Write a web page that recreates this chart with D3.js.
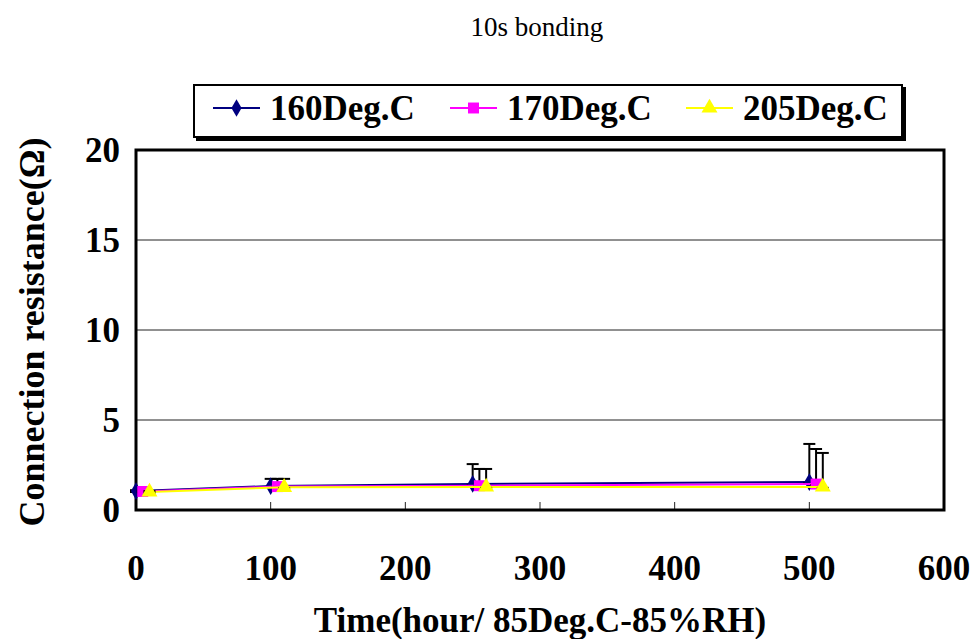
<!DOCTYPE html>
<html>
<head>
<meta charset="utf-8">
<script src="https://cdn.jsdelivr.net/npm/d3@7"></script>
<style>
    body { margin: 0; background: #fff; }
    svg { display: block; }
    text { font-family: "Liberation Serif", "Times New Roman", "DejaVu Serif", serif; }
    .tick-label { font-weight: bold; font-size: 35px; }
</style>
</head>
<body>
<svg width="976" height="639"></svg>
<script>
    // data
    var seriesNames = ["160Deg.C", "170Deg.C", "205Deg.C"];
    var hours160 = [0, 100, 250, 500],
        hours170 = [5, 105, 255, 505],
        hours205 = [10, 110, 260, 510];
    var res160 = [1.05, 1.33, 1.45, 1.55],
        res170 = [1.03, 1.3, 1.35, 1.44],
        res205 = [1.0, 1.26, 1.28, 1.28];
    var errUp160 = [0.05, 0.4, 1.1, 2.12],
        errUp170 = [0.05, 0.43, 0.93, 1.95],
        errUp205 = [0.05, 0.47, 1.0, 1.89];
    var errDown = [0.05, 0.05, 0.05, 0.05];
    var xTicks = [0, 100, 200, 300, 400, 500, 600],
        yTicks = [0, 5, 10, 15, 20];

    var colors = ["#000080", "#ff00ff", "#ffff00"],
        symbols = [d3.symbolDiamond, d3.symbolSquare, d3.symbolTriangle],
        symbolSizes = [90, 120, 110];

    var series = [
        { name: seriesNames[0], hours: hours160, res: res160, up: errUp160 },
        { name: seriesNames[1], hours: hours170, res: res170, up: errUp170 },
        { name: seriesNames[2], hours: hours205, res: res205, up: errUp205 }
    ];

    var svg = d3.select("svg");
    var plot = { left: 136, right: 944, top: 150, bottom: 510 };

    var x = d3.scaleLinear().domain([0, 600]).range([plot.left, plot.right]),
        y = d3.scaleLinear().domain([0, 20]).range([plot.bottom, plot.top]);

    // title
    svg.append("text")
        .attr("x", 537)
        .attr("y", 36)
        .attr("text-anchor", "middle")
        .style("font-size", "27px")
        .text("10s bonding");

    // gridlines
    svg.append("g")
        .selectAll("line")
        .data(yTicks.filter(function(d) { return d > 0 && d < 20; }))
        .enter().append("line")
        .attr("x1", plot.left)
        .attr("x2", plot.right)
        .attr("y1", function(d) { return y(d); })
        .attr("y2", function(d) { return y(d); })
        .style("stroke", "#222")
        .style("stroke-width", 1);

    // x ticks (inside, pointing up)
    svg.append("g")
        .selectAll("line")
        .data(xTicks.slice(1, -1))
        .enter().append("line")
        .attr("x1", function(d) { return x(d); })
        .attr("x2", function(d) { return x(d); })
        .attr("y1", plot.bottom)
        .attr("y2", plot.bottom - 8)
        .style("stroke", "#222")
        .style("stroke-width", 1);

    // plot frame
    svg.append("rect")
        .attr("x", plot.left)
        .attr("y", plot.top)
        .attr("width", plot.right - plot.left)
        .attr("height", plot.bottom - plot.top)
        .style("fill", "none")
        .style("stroke", "#000")
        .style("stroke-width", 3);

    // tick labels
    svg.append("g")
        .selectAll("text")
        .data(xTicks)
        .enter().append("text")
        .attr("class", "tick-label")
        .attr("x", function(d) { return x(d); })
        .attr("y", 580)
        .attr("text-anchor", "middle")
        .text(function(d) { return d; });

    svg.append("g")
        .selectAll("text")
        .data(yTicks)
        .enter().append("text")
        .attr("class", "tick-label")
        .attr("x", 120)
        .attr("y", function(d) { return y(d) + 12; })
        .attr("text-anchor", "end")
        .text(function(d) { return d; });

    // axis titles
    svg.append("text")
        .attr("x", 540)
        .attr("y", 632)
        .attr("text-anchor", "middle")
        .style("font-weight", "bold")
        .style("font-size", "35px")
        .text("Time(hour/ 85Deg.C-85%RH)");

    svg.append("text")
        .attr("transform", "translate(44,332) rotate(-90)")
        .attr("text-anchor", "middle")
        .style("font-weight", "bold")
        .style("font-size", "36px")
        .text("Connection resistance(\u03a9)");

    // series
    var line = d3.line()
        .x(function(d) { return x(d.h); })
        .y(function(d) { return y(d.r); });

    series.forEach(function(s, i) {
        var pts = s.hours.map(function(h, j) {
            return { h: h, r: s.res[j], up: s.up[j], down: errDown[j] };
        });
        var g = svg.append("g").attr("class", "series");

        g.append("path")
            .datum(pts)
            .attr("d", line)
            .style("fill", "none")
            .style("stroke", colors[i])
            .style("stroke-width", 2);

        var eb = g.selectAll(".err").data(pts).enter().append("g").attr("class", "err");
        eb.append("line")
            .attr("x1", function(d) { return x(d.h); })
            .attr("x2", function(d) { return x(d.h); })
            .attr("y1", function(d) { return y(d.r - d.down); })
            .attr("y2", function(d) { return y(d.r + d.up); })
            .style("stroke", "#000")
            .style("stroke-width", 2);
        [function(d) { return d.r + d.up; }, function(d) { return d.r - d.down; }].forEach(function(f) {
            eb.append("line")
                .attr("x1", function(d) { return x(d.h) - 6; })
                .attr("x2", function(d) { return x(d.h) + 6; })
                .attr("y1", function(d) { return y(f(d)); })
                .attr("y2", function(d) { return y(f(d)); })
                .style("stroke", "#000")
                .style("stroke-width", 2);
        });

        g.selectAll(".marker")
            .data(pts)
            .enter().append("path")
            .attr("class", "marker")
            .attr("transform", function(d) { return "translate(" + x(d.h) + "," + y(d.r) + ")"; })
            .attr("d", d3.symbol().type(symbols[i]).size(symbolSizes[i]))
            .style("fill", colors[i]);
    });

    // legend
    var legend = svg.append("g");
    legend.append("rect")
        .attr("x", 196).attr("y", 87)
        .attr("width", 710).attr("height", 54)
        .style("fill", "#000");
    legend.append("rect")
        .attr("x", 194).attr("y", 85)
        .attr("width", 708).attr("height", 52)
        .style("fill", "#fff")
        .style("stroke", "#000")
        .style("stroke-width", 2);

    var legendX = [213, 450, 686];
    series.forEach(function(s, i) {
        var lg = legend.append("g").attr("transform", "translate(" + legendX[i] + ",108)");
        lg.append("line")
            .attr("x1", 0).attr("x2", 47)
            .style("stroke", colors[i])
            .style("stroke-width", 2);
        lg.append("path")
            .attr("transform", "translate(23.5,0)")
            .attr("d", d3.symbol().type(symbols[i]).size(symbolSizes[i]))
            .style("fill", colors[i]);
        lg.append("text")
            .attr("x", 57)
            .attr("y", 12)
            .style("font-weight", "bold")
            .style("font-size", "35px")
            .text(s.name);
    });
</script>
</body>
</html>
